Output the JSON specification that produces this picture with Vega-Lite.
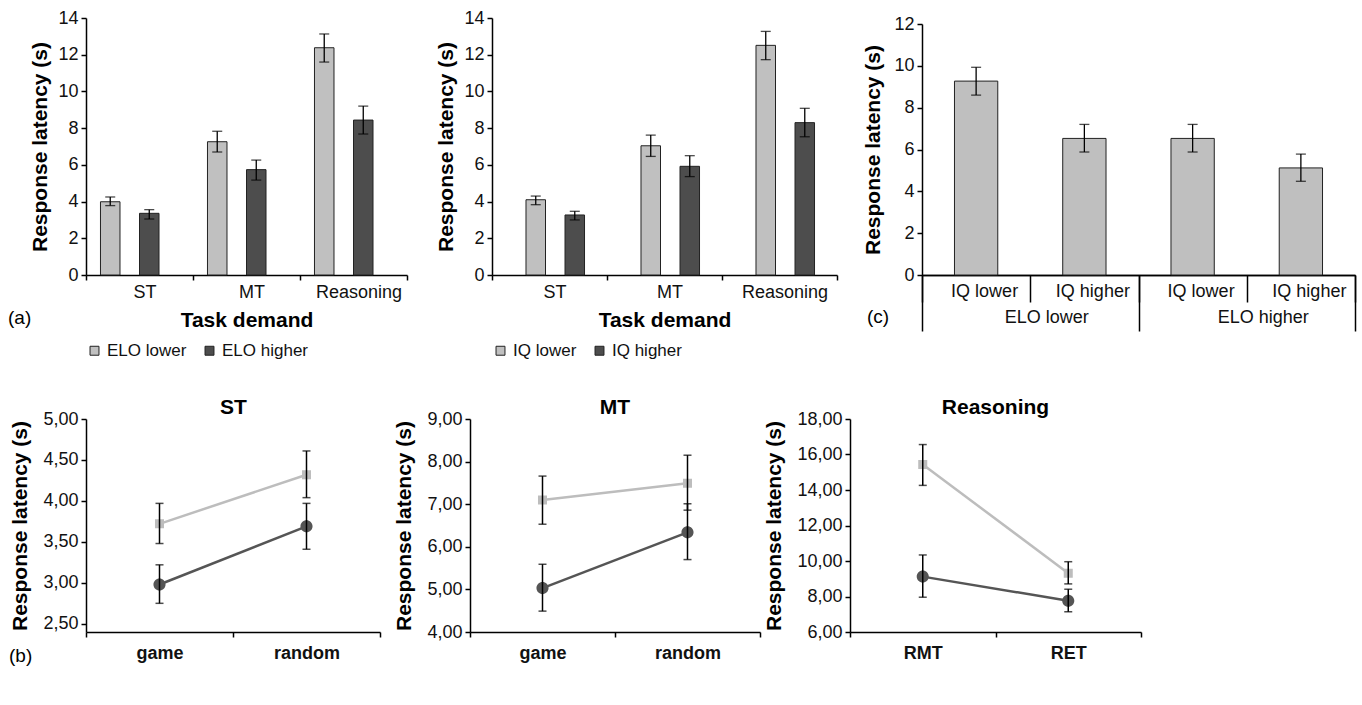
{
  "$schema": "https://vega.github.io/schema/vega-lite/v6.json",
  "padding": {"left": 8, "top": -56, "right": 2, "bottom": 0},
  "background": "white",
  "config": {
    "font": "Liberation Sans",
    "view": {"stroke": null},
    "axis": {"grid": false, "domainColor": "#000", "domainWidth": 1.5, "tickColor": "#000", "tickWidth": 1.5, "tickSize": 5, "labelColor": "#111", "labelFontSize": 18, "labelPadding": 3, "titleColor": "#000", "titleFontSize": 21, "titleFontWeight": "bold", "labelOverlap": false},
    "legend": {"labelFontSize": 17, "labelColor": "#111"},
    "title": {"color": "#000"}
  },
  "datasets": {
    "elo": [
      {"task": "ST", "group": "ELO lower", "value": 3.99, "lo": 3.78, "hi": 4.25},
      {"task": "ST", "group": "ELO higher", "value": 3.36, "lo": 3.05, "hi": 3.56},
      {"task": "MT", "group": "ELO lower", "value": 7.26, "lo": 6.70, "hi": 7.83},
      {"task": "MT", "group": "ELO higher", "value": 5.74, "lo": 5.17, "hi": 6.26},
      {"task": "Reasoning", "group": "ELO lower", "value": 12.38, "lo": 11.6, "hi": 13.13},
      {"task": "Reasoning", "group": "ELO higher", "value": 8.44, "lo": 7.68, "hi": 9.2}
    ],
    "iq": [
      {"task": "ST", "group": "IQ lower", "value": 4.10, "lo": 3.83, "hi": 4.30},
      {"task": "ST", "group": "IQ higher", "value": 3.27, "lo": 3.0, "hi": 3.47},
      {"task": "MT", "group": "IQ lower", "value": 7.04, "lo": 6.46, "hi": 7.62},
      {"task": "MT", "group": "IQ higher", "value": 5.92, "lo": 5.36, "hi": 6.5},
      {"task": "Reasoning", "group": "IQ lower", "value": 12.51, "lo": 11.73, "hi": 13.27},
      {"task": "Reasoning", "group": "IQ higher", "value": 8.30, "lo": 7.53, "hi": 9.08}
    ],
    "cdata": [
      {"cat": "ELO lower|IQ lower", "elo": "ELO lower", "value": 9.27, "lo": 8.6, "hi": 9.93},
      {"cat": "ELO lower|IQ higher", "elo": "ELO lower", "value": 6.53, "lo": 5.88, "hi": 7.2},
      {"cat": "ELO higher|IQ lower", "elo": "ELO higher", "value": 6.53, "lo": 5.88, "hi": 7.2},
      {"cat": "ELO higher|IQ higher", "elo": "ELO higher", "value": 5.12, "lo": 4.48, "hi": 5.78}
    ],
    "st": [
      {"cond": "game", "group": "ELO lower", "value": 3.72, "lo": 3.48, "hi": 3.97},
      {"cond": "random", "group": "ELO lower", "value": 4.32, "lo": 4.04, "hi": 4.61},
      {"cond": "game", "group": "ELO higher", "value": 2.98, "lo": 2.75, "hi": 3.22},
      {"cond": "random", "group": "ELO higher", "value": 3.69, "lo": 3.41, "hi": 3.97}
    ],
    "mt": [
      {"cond": "game", "group": "ELO lower", "value": 7.10, "lo": 6.53, "hi": 7.66},
      {"cond": "random", "group": "ELO lower", "value": 7.49, "lo": 6.86, "hi": 8.15},
      {"cond": "game", "group": "ELO higher", "value": 5.03, "lo": 4.49, "hi": 5.59},
      {"cond": "random", "group": "ELO higher", "value": 6.34, "lo": 5.70, "hi": 7.01}
    ],
    "re": [
      {"cond": "RMT", "group": "ELO lower", "value": 15.44, "lo": 14.26, "hi": 16.56},
      {"cond": "RET", "group": "ELO lower", "value": 9.31, "lo": 8.71, "hi": 9.96},
      {"cond": "RMT", "group": "ELO higher", "value": 9.12, "lo": 7.96, "hi": 10.34},
      {"cond": "RET", "group": "ELO higher", "value": 7.76, "lo": 7.14, "hi": 8.41}
    ]
  },
  "columns": 1,
  "align": "none",
  "spacing": 37,
  "concat": [
    {
      "hconcat": [
        {
          "width": 321, "height": 257,
          "data": {"name": "elo"},
          "title": {"text": "(a)", "orient": "bottom", "anchor": "start", "frame": "group", "dx": -78, "offset": -50, "fontSize": 19, "fontWeight": "normal"},
          "encoding": {
            "x": {"field": "task", "type": "nominal", "sort": ["ST", "MT", "Reasoning"], "scale": {"paddingInner": 0, "paddingOuter": 0}, "axis": {"title": "Task demand", "labelAngle": 0, "tickBand": "extent", "labelOffset": 5, "titlePadding": 8}},
            "xOffset": {"field": "group", "type": "nominal", "sort": ["ELO lower", "ELO higher"], "scale": {"paddingInner": 0, "paddingOuter": 0.742}}
          },
          "layer": [
            {"mark": {"type": "bar", "stroke": "#222", "strokeWidth": 1},
             "encoding": {
               "y": {"field": "value", "type": "quantitative", "title": "Response latency (s)", "scale": {"domain": [0, 14]}, "axis": {"values": [0, 2, 4, 6, 8, 10, 12, 14], "titlePadding": 7}},
               "color": {"field": "group", "type": "nominal", "sort": ["ELO lower", "ELO higher"], "scale": {"domain": ["ELO lower", "ELO higher"], "range": ["#c0c0c0", "#4d4d4d"]},
                 "legend": {"orient": "bottom", "direction": "horizontal", "title": null, "symbolType": "square", "symbolSize": 80, "symbolStrokeColor": "#222", "symbolStrokeWidth": 1, "labelOffset": 4, "columnPadding": 14, "offset": 12}}
             }},
            {"mark": {"type": "rule", "color": "#000", "strokeWidth": 1.3},
             "encoding": {"y": {"field": "lo", "type": "quantitative", "title": "Response latency (s)", "axis": {"values": [0, 2, 4, 6, 8, 10, 12, 14], "titlePadding": 7}}, "y2": {"field": "hi"}}},
            {"mark": {"type": "tick", "color": "#000", "size": 10, "thickness": 1.3},
             "encoding": {"y": {"field": "lo", "type": "quantitative", "title": "Response latency (s)", "axis": {"values": [0, 2, 4, 6, 8, 10, 12, 14], "titlePadding": 7}}}},
            {"mark": {"type": "tick", "color": "#000", "size": 10, "thickness": 1.3},
             "encoding": {"y": {"field": "hi", "type": "quantitative", "title": "Response latency (s)", "axis": {"values": [0, 2, 4, 6, 8, 10, 12, 14], "titlePadding": 7}}}}
          ]
        },
        {
          "width": 345, "height": 257,
          "data": {"name": "iq"},
          "encoding": {
            "x": {"field": "task", "type": "nominal", "sort": ["ST", "MT", "Reasoning"], "scale": {"paddingInner": 0, "paddingOuter": 0}, "axis": {"title": "Task demand", "labelAngle": 0, "tickBand": "extent", "labelOffset": 5, "titlePadding": 8}},
            "xOffset": {"field": "group", "type": "nominal", "sort": ["IQ lower", "IQ higher"], "scale": {"paddingInner": 0, "paddingOuter": 0.742}}
          },
          "layer": [
            {"mark": {"type": "bar", "stroke": "#222", "strokeWidth": 1},
             "encoding": {
               "y": {"field": "value", "type": "quantitative", "title": "Response latency (s)", "scale": {"domain": [0, 14]}, "axis": {"values": [0, 2, 4, 6, 8, 10, 12, 14], "titlePadding": 7}},
               "color": {"field": "group", "type": "nominal", "sort": ["IQ lower", "IQ higher"], "scale": {"domain": ["IQ lower", "IQ higher"], "range": ["#c0c0c0", "#4d4d4d"]},
                 "legend": {"orient": "bottom", "direction": "horizontal", "title": null, "symbolType": "square", "symbolSize": 80, "symbolStrokeColor": "#222", "symbolStrokeWidth": 1, "labelOffset": 4, "columnPadding": 14, "offset": 12}}
             }},
            {"mark": {"type": "rule", "color": "#000", "strokeWidth": 1.3},
             "encoding": {"y": {"field": "lo", "type": "quantitative", "title": "Response latency (s)", "axis": {"values": [0, 2, 4, 6, 8, 10, 12, 14], "titlePadding": 7}}, "y2": {"field": "hi"}}},
            {"mark": {"type": "tick", "color": "#000", "size": 10, "thickness": 1.3},
             "encoding": {"y": {"field": "lo", "type": "quantitative", "title": "Response latency (s)", "axis": {"values": [0, 2, 4, 6, 8, 10, 12, 14], "titlePadding": 7}}}},
            {"mark": {"type": "tick", "color": "#000", "size": 10, "thickness": 1.3},
             "encoding": {"y": {"field": "hi", "type": "quantitative", "title": "Response latency (s)", "axis": {"values": [0, 2, 4, 6, 8, 10, 12, 14], "titlePadding": 7}}}}
          ]
        },
        {
          "width": 433, "height": 257,
          "data": {"name": "cdata"},
          "title": {"text": "(c)", "orient": "bottom", "anchor": "start", "frame": "group", "dx": -55, "offset": -24, "fontSize": 19, "fontWeight": "normal"},
          "resolve": {"scale": {"x": "independent", "y": "shared"}, "axis": {"x": "independent"}},
          "layer": [
            {
              "encoding": {
                "x": {"field": "cat", "type": "nominal", "sort": ["ELO lower|IQ lower", "ELO lower|IQ higher", "ELO higher|IQ lower", "ELO higher|IQ higher"], "scale": {"paddingInner": 0, "paddingOuter": 0},
                  "axis": {"title": null, "labelAngle": 0, "tickBand": "extent", "tickSize": 27, "labelPadding": -20, "labelOffset": 8, "labelExpr": "split(datum.value, '|')[1]"}}
              },
              "layer": [
                {"mark": {"type": "bar", "width": {"band": 0.4}, "fill": "#bfbfbf", "stroke": "#222", "strokeWidth": 1},
                 "encoding": {"y": {"field": "value", "type": "quantitative", "title": "Response latency (s)", "scale": {"domain": [0, 12], "range": [257, 6]}, "axis": {"values": [0, 2, 4, 6, 8, 10, 12], "titlePadding": 10}}}},
                {"mark": {"type": "rule", "color": "#000", "strokeWidth": 1.3},
                 "encoding": {"y": {"field": "lo", "type": "quantitative", "title": "Response latency (s)"}, "y2": {"field": "hi"}}},
                {"mark": {"type": "tick", "color": "#000", "size": 10, "thickness": 1.3},
                 "encoding": {"y": {"field": "lo", "type": "quantitative", "title": "Response latency (s)"}}},
                {"mark": {"type": "tick", "color": "#000", "size": 10, "thickness": 1.3},
                 "encoding": {"y": {"field": "hi", "type": "quantitative", "title": "Response latency (s)"}}}
              ]
            },
            {
              "mark": {"type": "bar", "opacity": 0},
              "encoding": {
                "x": {"field": "elo", "type": "nominal", "sort": ["ELO lower", "ELO higher"], "scale": {"paddingInner": 0, "paddingOuter": 0},
                  "axis": {"orient": "bottom", "title": null, "labelAngle": 0, "tickBand": "extent", "tickSize": 56, "labelPadding": -23, "labelOffset": 16}},
                "y": {"field": "value", "type": "quantitative", "title": "Response latency (s)"}
              }
            }
          ]
        }
      ],
      "bounds": "flush",
      "spacing": 85,
      "resolve": {"scale": {"color": "independent"}, "legend": {"color": "independent"}}
    },
    {
      "hconcat": [
        {
          "width": 294, "height": 213,
          "data": {"name": "st"},
          "title": {"text": "(b)", "orient": "bottom", "anchor": "start", "frame": "group", "dx": -77, "offset": -15, "fontSize": 19, "fontWeight": "normal"},
          "resolve": {"scale": {"x": "independent", "y": "shared"}, "axis": {"x": "independent"}},
          "layer": [
            {
              "encoding": {
                "x": {"field": "cond", "type": "nominal", "sort": ["game", "random"], "scale": {"paddingInner": 0, "paddingOuter": 0},
                  "axis": {"labelAngle": 0, "tickBand": "extent", "labelFontWeight": "bold", "labelPadding": 7, "title": null}}
              },
              "layer": [
                {"mark": {"type": "line", "strokeWidth": 2.5},
                 "encoding": {
                   "y": {"field": "value", "type": "quantitative", "title": "Response latency (s)", "scale": {"domain": [2.5, 5]}, "axis": {"values": [2.5, 3, 3.5, 4, 4.5, 5], "labelExpr": "replace(format(datum.value, '.2f'), '.', ',')", "titlePadding": 12}},
                   "stroke": {"field": "group", "type": "nominal", "scale": {"domain": ["ELO lower", "ELO higher"], "range": ["#bdbdbd", "#555555"]}, "legend": null}
                 }},
                {"mark": {"type": "point", "filled": true, "size": 121, "strokeWidth": 0, "opacity": 1},
                 "encoding": {
                   "y": {"field": "value", "type": "quantitative", "title": "Response latency (s)", "axis": {"values": [2.5, 3, 3.5, 4, 4.5, 5], "labelExpr": "replace(format(datum.value, '.2f'), '.', ',')", "titlePadding": 12}},
                   "fill": {"field": "group", "type": "nominal", "scale": {"domain": ["ELO lower", "ELO higher"], "range": ["#bdbdbd", "#555555"]}, "legend": null},
                   "shape": {"field": "group", "type": "nominal", "scale": {"domain": ["ELO lower", "ELO higher"], "range": ["M-3,0H-0.82M0.82,0H3M-0.82,-0.82H0.82V0.82H-0.82Z", "M-3,0H-1.1M1.1,0H3M-1.1,0A1.1,1.1 0 1,0 1.1,0A1.1,1.1 0 1,0 -1.1,0Z"]}, "legend": null}
                 }},
                {"mark": {"type": "rule", "color": "#000", "strokeWidth": 1.5},
                 "encoding": {"y": {"field": "lo", "type": "quantitative", "title": "Response latency (s)", "axis": {"values": [2.5, 3, 3.5, 4, 4.5, 5], "labelExpr": "replace(format(datum.value, '.2f'), '.', ',')", "titlePadding": 12}}, "y2": {"field": "hi"}}},
                {"mark": {"type": "tick", "color": "#000", "size": 8, "thickness": 1.5},
                 "encoding": {"y": {"field": "lo", "type": "quantitative", "title": "Response latency (s)", "axis": {"values": [2.5, 3, 3.5, 4, 4.5, 5], "labelExpr": "replace(format(datum.value, '.2f'), '.', ',')", "titlePadding": 12}}}},
                {"mark": {"type": "tick", "color": "#000", "size": 8, "thickness": 1.5},
                 "encoding": {"y": {"field": "hi", "type": "quantitative", "title": "Response latency (s)", "axis": {"values": [2.5, 3, 3.5, 4, 4.5, 5], "labelExpr": "replace(format(datum.value, '.2f'), '.', ',')", "titlePadding": 12}}}}
              ]
            },
            {
              "mark": {"type": "point", "opacity": 0},
              "encoding": {
                "x": {"field": "cond", "type": "nominal", "sort": ["game", "random"], "scale": {"paddingInner": 0, "paddingOuter": 0},
                  "axis": {"orient": "top", "labels": false, "ticks": false, "domain": false, "title": "ST", "titleFontSize": 21, "titlePadding": 2}},
                "y": {"field": "value", "type": "quantitative", "title": "Response latency (s)", "axis": {"values": [2.5, 3, 3.5, 4, 4.5, 5], "labelExpr": "replace(format(datum.value, '.2f'), '.', ',')", "titlePadding": 12}}
              }
            }
          ]
        },
        {
          "width": 290, "height": 213,
          "data": {"name": "mt"},
          "title": {"text": "MT", "fontSize": 21, "fontWeight": "bold", "offset": -8},
          "encoding": {
            "x": {"field": "cond", "type": "nominal", "sort": ["game", "random"], "scale": {"paddingInner": 0, "paddingOuter": 0},
              "axis": {"labelAngle": 0, "tickBand": "extent", "labelFontWeight": "bold", "labelPadding": 7, "title": null}}
          },
          "layer": [
            {"mark": {"type": "line", "strokeWidth": 2.5},
             "encoding": {
               "y": {"field": "value", "type": "quantitative", "title": "Response latency (s)", "scale": {"domain": [4, 9]}, "axis": {"values": [4, 5, 6, 7, 8, 9], "labelExpr": "replace(format(datum.value, '.2f'), '.', ',')", "titlePadding": 12}},
               "stroke": {"field": "group", "type": "nominal", "scale": {"domain": ["ELO lower", "ELO higher"], "range": ["#bdbdbd", "#555555"]}, "legend": null}
             }},
            {"mark": {"type": "point", "filled": true, "size": 121, "strokeWidth": 0, "opacity": 1},
             "encoding": {
               "y": {"field": "value", "type": "quantitative", "title": "Response latency (s)", "axis": {"values": [4, 5, 6, 7, 8, 9], "labelExpr": "replace(format(datum.value, '.2f'), '.', ',')", "titlePadding": 12}},
               "fill": {"field": "group", "type": "nominal", "scale": {"domain": ["ELO lower", "ELO higher"], "range": ["#bdbdbd", "#555555"]},
                 "legend": {"orient": "bottom", "direction": "horizontal", "title": null, "symbolSize": 121, "symbolStrokeWidth": 2.5, "labelOffset": 14, "columnPadding": 17, "offset": 22}},
               "stroke": {"field": "group", "type": "nominal", "scale": {"domain": ["ELO lower", "ELO higher"], "range": ["#bdbdbd", "#555555"]}},
               "shape": {"field": "group", "type": "nominal", "scale": {"domain": ["ELO lower", "ELO higher"], "range": ["M-3,0H-0.82M0.82,0H3M-0.82,-0.82H0.82V0.82H-0.82Z", "M-3,0H-1.1M1.1,0H3M-1.1,0A1.1,1.1 0 1,0 1.1,0A1.1,1.1 0 1,0 -1.1,0Z"]}}
             }},
            {"mark": {"type": "rule", "color": "#000", "strokeWidth": 1.5},
             "encoding": {"y": {"field": "lo", "type": "quantitative", "title": "Response latency (s)", "axis": {"values": [4, 5, 6, 7, 8, 9], "labelExpr": "replace(format(datum.value, '.2f'), '.', ',')", "titlePadding": 12}}, "y2": {"field": "hi"}}},
            {"mark": {"type": "tick", "color": "#000", "size": 8, "thickness": 1.5},
             "encoding": {"y": {"field": "lo", "type": "quantitative", "title": "Response latency (s)", "axis": {"values": [4, 5, 6, 7, 8, 9], "labelExpr": "replace(format(datum.value, '.2f'), '.', ',')", "titlePadding": 12}}}},
            {"mark": {"type": "tick", "color": "#000", "size": 8, "thickness": 1.5},
             "encoding": {"y": {"field": "hi", "type": "quantitative", "title": "Response latency (s)", "axis": {"values": [4, 5, 6, 7, 8, 9], "labelExpr": "replace(format(datum.value, '.2f'), '.', ',')", "titlePadding": 12}}}}
          ]
        },
        {
          "width": 291, "height": 213,
          "data": {"name": "re"},
          "title": {"text": "Reasoning", "fontSize": 21, "fontWeight": "bold", "offset": -8},
          "encoding": {
            "x": {"field": "cond", "type": "nominal", "sort": ["RMT", "RET"], "scale": {"paddingInner": 0, "paddingOuter": 0},
              "axis": {"labelAngle": 0, "tickBand": "extent", "labelFontWeight": "bold", "labelPadding": 7, "title": null}}
          },
          "layer": [
            {"mark": {"type": "line", "strokeWidth": 2.5},
             "encoding": {
               "y": {"field": "value", "type": "quantitative", "title": "Response latency (s)", "scale": {"domain": [6, 18]}, "axis": {"values": [6, 8, 10, 12, 14, 16, 18], "labelExpr": "replace(format(datum.value, '.2f'), '.', ',')", "titlePadding": 12}},
               "stroke": {"field": "group", "type": "nominal", "scale": {"domain": ["ELO lower", "ELO higher"], "range": ["#bdbdbd", "#555555"]}, "legend": null}
             }},
            {"mark": {"type": "point", "filled": true, "size": 121, "strokeWidth": 0, "opacity": 1},
             "encoding": {
               "y": {"field": "value", "type": "quantitative", "title": "Response latency (s)", "axis": {"values": [6, 8, 10, 12, 14, 16, 18], "labelExpr": "replace(format(datum.value, '.2f'), '.', ',')", "titlePadding": 12}},
               "fill": {"field": "group", "type": "nominal", "scale": {"domain": ["ELO lower", "ELO higher"], "range": ["#bdbdbd", "#555555"]}, "legend": null},
               "shape": {"field": "group", "type": "nominal", "scale": {"domain": ["ELO lower", "ELO higher"], "range": ["M-3,0H-0.82M0.82,0H3M-0.82,-0.82H0.82V0.82H-0.82Z", "M-3,0H-1.1M1.1,0H3M-1.1,0A1.1,1.1 0 1,0 1.1,0A1.1,1.1 0 1,0 -1.1,0Z"]}, "legend": null}
             }},
            {"mark": {"type": "rule", "color": "#000", "strokeWidth": 1.5},
             "encoding": {"y": {"field": "lo", "type": "quantitative", "title": "Response latency (s)", "axis": {"values": [6, 8, 10, 12, 14, 16, 18], "labelExpr": "replace(format(datum.value, '.2f'), '.', ',')", "titlePadding": 12}}, "y2": {"field": "hi"}}},
            {"mark": {"type": "tick", "color": "#000", "size": 8, "thickness": 1.5},
             "encoding": {"y": {"field": "lo", "type": "quantitative", "title": "Response latency (s)", "axis": {"values": [6, 8, 10, 12, 14, 16, 18], "labelExpr": "replace(format(datum.value, '.2f'), '.', ',')", "titlePadding": 12}}}},
            {"mark": {"type": "tick", "color": "#000", "size": 8, "thickness": 1.5},
             "encoding": {"y": {"field": "hi", "type": "quantitative", "title": "Response latency (s)", "axis": {"values": [6, 8, 10, 12, 14, 16, 18], "labelExpr": "replace(format(datum.value, '.2f'), '.', ',')", "titlePadding": 12}}}}
          ]
        }
      ],
      "bounds": "flush",
      "spacing": 90,
      "resolve": {"scale": {"fill": "independent", "stroke": "independent", "shape": "independent"}, "legend": {"fill": "independent", "stroke": "independent", "shape": "independent"}}
    }
  ]
}
